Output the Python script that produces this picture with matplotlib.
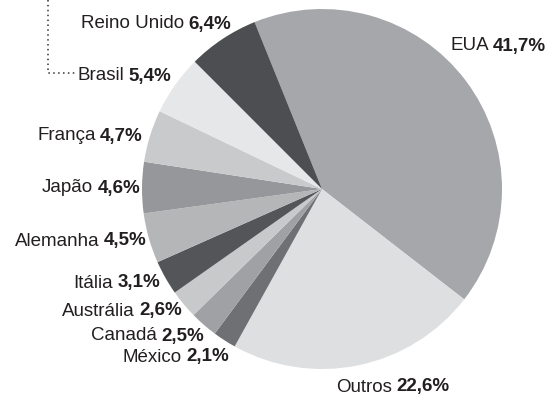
import matplotlib.pyplot as plt
from matplotlib.offsetbox import TextArea, HPacker, AnnotationBbox

plt.rcParams['font.family'] = ['Liberation Sans', 'DejaVu Sans']

# %% Data
paises = ['EUA', 'Outros', 'México', 'Canadá', 'Austrália', 'Itália',
          'Alemanha', 'Japão', 'França', 'Brasil', 'Reino Unido']
valores = [41.7, 22.6, 2.1, 2.5, 2.6, 3.1, 4.5, 4.6, 4.7, 5.4, 6.4]
cores = ['#a6a7aa', '#dedfe1', '#6f7073', '#a0a1a4', '#c8c9cb', '#545558',
         '#b5b6b8', '#96979a', '#c9cacc', '#e6e7e8', '#4d4e51']

# label anchor (pixel coords, y down) and alignment
pos_rotulos = {
    'Reino Unido': (231, 24, 1.0),
    'Brasil': (171, 76, 1.0),
    'França': (143, 136, 1.0),
    'Japão': (140, 188, 1.0),
    'Alemanha': (147, 241, 1.0),
    'Itália': (160, 283, 1.0),
    'Austrália': (182, 311, 1.0),
    'Canadá': (204, 336, 1.0),
    'México': (229, 357, 1.0),
    'EUA': (450, 46, 0.0),
    'Outros': (393, 387, 0.5),
}

W, H = 549, 395
fig = plt.figure(figsize=(W / 100, H / 100), dpi=100)
ax = fig.add_axes([0, 0, 1, 1])

# %% Pie
ax.pie(valores, colors=cores, center=(322, H - 189), radius=180,
       startangle=112, counterclock=False, frame=True,
       wedgeprops=dict(linewidth=0))
ax.set_xlim(0, W)
ax.set_ylim(0, H)
ax.axis('off')

# %% Labels: name in regular, value in bold
cor_texto = '#231f20'
for nome, v in zip(paises, valores):
    x, y, ha = pos_rotulos[nome]
    txt = f'{v:.1f}'.replace('.', ',') + '%'
    caixa = HPacker(children=[
        TextArea(nome, textprops=dict(size=13.5, color=cor_texto)),
        TextArea(txt, textprops=dict(size=13.5, color=cor_texto, weight='bold')),
    ], sep=3, pad=0, align='baseline')
    ab = AnnotationBbox(caixa, (x, H - y), xycoords='data',
                        box_alignment=(ha, 0.5), frameon=False, pad=0)
    ax.add_artist(ab)

# dotted leader line next to Brasil
ax.plot([48, 48, 75], [H - 0, H - 73, H - 73], linestyle=(0, (1, 2.2)),
        color='#333333', linewidth=1.1, clip_on=False)

fig.savefig('out.png', dpi=100)
